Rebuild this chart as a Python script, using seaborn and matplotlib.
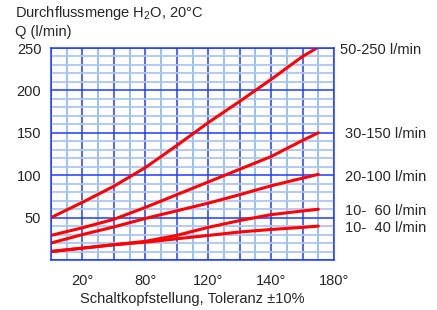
import matplotlib
matplotlib.use("Agg")
import matplotlib.pyplot as plt
import seaborn as sns
import pandas as pd
import numpy as np

# ---- data ----
positions = [0, 1, 2, 3, 4, 5, 6, 7, 8, 8.5]
q_50_250 = [50, 68, 87, 109, 135, 162, 187, 213, 240, 251]
q_30_150 = [29, 38, 48, 62, 77, 92, 107, 122, 141, 150]
q_20_100 = [20, 30, 39, 49, 58, 67, 77, 87.5, 96.5, 101]
q_10_60 = [10, 14, 18, 22, 29, 38.5, 46.5, 53.5, 57.8, 59.8]
q_10_40 = [10, 14, 18, 21, 25, 29, 33, 36, 38.5, 40]
series_names = ["50-250 l/min", "30-150 l/min", "20-100 l/min", "10-  60 l/min", "10-  40 l/min"]
series_vals = [q_50_250, q_30_150, q_20_100, q_10_60, q_10_40]
label_y = [248, 148, 98, 58, 38]
x_tick_pos = [1, 3, 5, 7, 9]
x_tick_labels = ["20°", "80°", "120°", "140°", "180°"]
y_tick_pos = [50, 100, 150, 200, 250]

rows = []
for name, vals in zip(series_names, series_vals):
    for p, v in zip(positions, vals):
        rows.append({"pos": p, "Q": v, "range": name})
df = pd.DataFrame(rows)

sns.set_style("white")
plt.rcParams["font.family"] = ["Liberation Sans", "DejaVu Sans"]
plt.rcParams["mathtext.fontset"] = "custom"
plt.rcParams["mathtext.rm"] = "Liberation Sans"

W, H = 437, 310
fig = plt.figure(figsize=(W / 100, H / 100), dpi=100)
L, R, T, B = 51, 334, 48, 260
ax = fig.add_axes([L / W, 1 - B / H, (R - L) / W, (B - T) / H])

DARK = "#1f3cff"
LIGHT_V = "#8cbcf2"
LIGHT_H = "#aec6f2"

ax.set_xlim(0, 9)
ax.set_ylim(0, 250)
ax.set_xticks(np.arange(0, 10, 1))
ax.set_xticks(np.arange(0.5, 9, 1), minor=True)
ax.set_yticks(np.arange(0, 251, 50))
ax.set_yticks([v for v in range(10, 250, 10) if v % 50 != 0], minor=True)

ax.grid(True, which="minor", axis="y", color=LIGHT_H, linewidth=1.3, zorder=0)
ax.grid(True, which="minor", axis="x", color=LIGHT_V, linewidth=1.3, zorder=0)
ax.grid(True, which="major", color=DARK, linewidth=1.1, zorder=0)
ax.set_axisbelow(True)

sns.lineplot(data=df, x="pos", y="Q", hue="range", palette=["#ff0000"] * 5,
             legend=False, sort=False, estimator=None, linewidth=2.2, ax=ax)

ax.set_xticklabels(["" if p not in x_tick_pos else x_tick_labels[x_tick_pos.index(p)]
                    for p in range(10)])
ax.set_yticklabels(["" if v not in y_tick_pos else str(v) for v in range(0, 251, 50)])
ax.tick_params(axis="x", which="major", direction="out", length=8, width=1.1,
               color=DARK, labelsize=10.5, pad=2)
ax.tick_params(axis="x", which="minor", direction="out", length=7, width=1.3,
               color=LIGHT_V)
ax.tick_params(axis="y", which="major", direction="out", length=5, width=1.1,
               color=DARK, labelsize=10.5, pad=2)
ax.tick_params(axis="y", which="minor", direction="out", length=2, width=1.3,
               color=LIGHT_H)
for lbl in ax.get_xticklabels():
    lbl.set_x(lbl.get_position()[0])
ax.set_xlabel("Schaltkopfstellung, Toleranz ±10%", fontsize=10.5, labelpad=3)
ax.set_ylabel("")
for s in ax.spines.values():
    s.set_color(DARK)
    s.set_linewidth(1.1)

for name, y in zip(series_names, label_y):
    xx = 9.2 if name.startswith("50") else 9.35
    ax.text(xx, y, name, ha="left", va="center", fontsize=10.5, clip_on=False)

fig.text(15 / W, 1 - 13 / H, "Durchflussmenge H$_\\mathregular{2}$O, 20°C",
         ha="left", va="center", fontsize=10.5)
fig.text(15 / W, 1 - 32 / H, "Q (l/min)", ha="left", va="center", fontsize=10.5)

fig.savefig("out.png", dpi=100, facecolor="white")
